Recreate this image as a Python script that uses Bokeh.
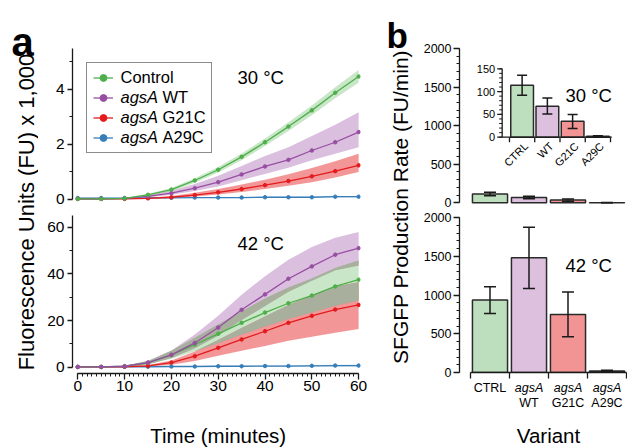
import numpy as np
from bokeh.plotting import figure
from bokeh.models import Range1d, FixedTicker, Label, Legend, LegendItem
from bokeh.layouts import row, column
from bokeh.embed import file_html
from bokeh.resources import INLINE
from bokeh.core.properties import value

FONT = "Liberation Sans"
INK = "#1a1a1a"

# ---------------- data: panel a ----------------
time_min = [0, 5, 10, 15, 20, 25, 30, 35, 40, 45, 50, 55, 60]

# 30 C (fluorescence, FU x 1,000)
ctrl_30 = [0.02, 0.02, 0.04, 0.17, 0.36, 0.69, 1.08, 1.55, 2.08, 2.65, 3.24, 3.88, 4.47]
ctrl_30_lo = [0.01, 0.01, 0.02, 0.13, 0.30, 0.61, 0.98, 1.43, 1.94, 2.49, 3.06, 3.68, 4.24]
ctrl_30_hi = [0.03, 0.03, 0.06, 0.21, 0.42, 0.77, 1.18, 1.67, 2.22, 2.81, 3.42, 4.08, 4.71]
wt_30 = [0.02, 0.02, 0.04, 0.11, 0.23, 0.41, 0.63, 0.91, 1.20, 1.44, 1.78, 2.08, 2.45]
wt_30_lo = [0.01, 0.01, 0.03, 0.08, 0.17, 0.31, 0.47, 0.70, 0.93, 1.15, 1.43, 1.66, 1.90]
wt_30_hi = [0.03, 0.03, 0.06, 0.15, 0.32, 0.56, 0.86, 1.22, 1.58, 1.90, 2.31, 2.72, 3.17]
g21c_30 = [0.02, 0.02, 0.02, 0.04, 0.08, 0.16, 0.26, 0.38, 0.52, 0.67, 0.84, 1.03, 1.24]
g21c_30_lo = [0.01, 0.01, 0.01, 0.03, 0.05, 0.11, 0.18, 0.27, 0.38, 0.50, 0.63, 0.80, 1.00]
g21c_30_hi = [0.03, 0.03, 0.03, 0.06, 0.13, 0.24, 0.38, 0.54, 0.72, 0.92, 1.14, 1.39, 1.66]
a29c_30 = [0.05, 0.05, 0.05, 0.06, 0.06, 0.07, 0.07, 0.07, 0.08, 0.08, 0.08, 0.10, 0.10]
a29c_30_lo = [0.04, 0.04, 0.04, 0.05, 0.05, 0.05, 0.05, 0.05, 0.06, 0.06, 0.06, 0.07, 0.07]
a29c_30_hi = [0.06, 0.06, 0.06, 0.07, 0.07, 0.08, 0.08, 0.09, 0.10, 0.10, 0.10, 0.13, 0.13]

# 42 C (fluorescence, FU x 1,000)
ctrl_42 = [0.1, 0.1, 0.4, 1.9, 5.3, 9.7, 14.3, 19.0, 23.4, 27.4, 30.7, 34.6, 37.5]
ctrl_42_lo = [0.0, 0.0, 0.2, 1.2, 3.6, 6.8, 10.3, 14.0, 17.4, 20.6, 23.4, 26.3, 28.6]
ctrl_42_hi = [0.2, 0.2, 0.6, 2.6, 7.0, 12.6, 18.3, 24.0, 29.4, 34.2, 38.0, 42.5, 45.7]
wt_42 = [0.1, 0.1, 0.4, 2.0, 5.3, 10.4, 17.0, 24.6, 31.2, 37.9, 43.2, 48.2, 51.0]
wt_42_lo = [0.0, 0.0, 0.2, 1.3, 3.9, 8.1, 13.6, 20.2, 26.2, 32.3, 37.0, 41.5, 43.6]
wt_42_hi = [0.2, 0.2, 0.6, 2.8, 7.2, 14.0, 22.0, 31.0, 39.0, 46.0, 51.5, 55.5, 57.9]
g21c_42 = [0.1, 0.1, 0.2, 0.6, 2.0, 4.7, 8.3, 11.9, 15.4, 19.0, 22.0, 24.7, 26.7]
g21c_42_lo = [0.0, 0.0, 0.1, 0.3, 1.1, 2.7, 4.9, 7.0, 9.1, 11.3, 13.1, 14.8, 16.4]
g21c_42_hi = [0.2, 0.2, 0.3, 0.9, 2.9, 6.7, 11.7, 16.8, 21.7, 26.7, 30.9, 34.6, 36.4]
a29c_42 = [0.1, 0.1, 0.2, 0.2, 0.3, 0.3, 0.4, 0.4, 0.5, 0.5, 0.6, 0.7, 0.7]
a29c_42_lo = [0.0, 0.0, 0.1, 0.1, 0.1, 0.1, 0.2, 0.2, 0.2, 0.2, 0.3, 0.3, 0.3]
a29c_42_hi = [0.2, 0.2, 0.3, 0.3, 0.5, 0.5, 0.6, 0.6, 0.8, 0.8, 0.9, 1.1, 1.1]

series_labels = [("", "Control"), ("agsA", "WT"), ("agsA", "G21C"), ("agsA", "A29C")]
line_colors = ["#4daf4a", "#984ea3", "#e41a1c", "#377eb8"]
band_alphas = [0.30, 0.36, 0.46, 0.30]
overlap_color = "#a9af9d"

ticks_30 = [0, 2, 4]
minor_30 = [1, 3, 5]
ticks_42 = [0, 20, 40, 60]
minor_42 = [10, 30, 50]
time_ticks = [0, 10, 20, 30, 40, 50, 60]
time_minor = list(range(0, 61))

# ---------------- data: panel b ----------------
variants = ["CTRL", "WT", "G21C", "A29C"]
variant_pos = [0.5, 1.5, 2.5, 3.5]
variant_edges = [0, 1, 2, 3, 4]
rate_30 = [114, 68, 35, 2]
rate_30_lo = [92, 51, 19, 1]
rate_30_hi = [136, 86, 50, 3]
rate_42 = [935, 1480, 750, 20]
rate_42_lo = [760, 1085, 460, 12]
rate_42_hi = [1105, 1875, 1040, 28]
bar_colors = ["#bddfbd", "#ddbfde", "#f29494", "#b4cfe8"]

rate_ticks = [0, 500, 1000, 1500, 2000]
rate_minor = list(range(0, 2001, 100))
inset_ticks = [0, 50, 100, 150]
inset_minor = list(range(0, 151, 10))


def make_fig(w, h, xr, yr, l, r, t, b, xaxis=True, yaxis=True):
    p = figure(width=w, height=h, x_range=xr, y_range=yr,
               x_axis_type="linear" if xaxis else None,
               y_axis_type="linear" if yaxis else None,
               output_backend="svg", toolbar_location=None,
               min_border_left=l, min_border_right=r,
               min_border_top=t, min_border_bottom=b)
    p.grid.visible = False
    p.outline_line_color = None
    p.background_fill_color = "white"
    p.border_fill_color = "white"
    return p


def style_axis(ax, ticks, minor, fs, standoff, tick_len=5):
    ax.ticker = FixedTicker(ticks=ticks, minor_ticks=minor)
    ax.axis_line_color = INK
    ax.axis_line_width = 1.3
    ax.major_tick_line_color = INK
    ax.major_tick_line_width = 1.3
    ax.minor_tick_line_color = INK
    ax.minor_tick_line_width = 1.0
    ax.major_tick_in = 0
    ax.major_tick_out = tick_len
    ax.minor_tick_in = 0
    ax.minor_tick_out = 3
    ax.major_label_text_font = FONT
    ax.major_label_text_font_size = fs
    ax.major_label_text_color = "black"
    ax.major_label_standoff = standoff


def frame_label(p, dx, dy, text, size, style="normal", align="left", baseline="middle"):
    # dx: px right of the frame's left edge, dy: px below the frame's top edge
    p.add_layout(Label(x=p.x_range.start, y=p.y_range.end, x_offset=dx, y_offset=-dy, text=text,
                       text_font=FONT, text_font_size=size, text_font_style=style,
                       text_align=align, text_baseline=baseline, text_color="black",
                       level="overlay"))


def plain_label(p, x, y, text, size, style="normal", align="left", baseline="middle", angle=0.0):
    p.add_layout(Label(x=x, y=y, text=text, text_font=FONT, text_font_size=size,
                       text_font_style=style, text_align=align, text_baseline=baseline,
                       angle=angle, text_color="black", level="overlay"))


# ---------------- panel a, 30 C ----------------
xr_a = Range1d(-1.13, 60.4)
tl = make_fig(332, 207, xr_a, Range1d(-0.22, 5.49), 34, 10, 48, 2, xaxis=False)
style_axis(tl.yaxis[0], ticks_30, minor_30, "15.5px", 3)
tl.yaxis[0].bounds = (0, 5.49)

sets_30 = [(ctrl_30, ctrl_30_lo, ctrl_30_hi), (wt_30, wt_30_lo, wt_30_hi),
           (g21c_30, g21c_30_lo, g21c_30_hi), (a29c_30, a29c_30_lo, a29c_30_hi)]
for i in [1, 2, 0, 3]:
    m, lo, hi = sets_30[i]
    tl.varea(x=time_min, y1=lo, y2=hi, fill_color=line_colors[i], fill_alpha=band_alphas[i])
items = []
for i in [3, 2, 1, 0]:
    m, lo, hi = sets_30[i]
    lr = tl.line(time_min, m, line_color=line_colors[i], line_width=1.3)
    sr = tl.scatter(time_min, m, size=3.5, fill_color=line_colors[i], line_color=line_colors[i])
    items.insert(0, LegendItem(label=" ", renderers=[lr, sr]))
legend = Legend(items=items, location="top_left", margin=14, padding=6, spacing=3,
                glyph_width=20, glyph_height=17, label_height=17, label_width=85,
                label_standoff=7, label_text_font_size="10px",
                border_line_color=INK, border_line_width=1.3,
                background_fill_alpha=0.0, level="annotation")
tl.add_layout(legend)
for k, (it, nm) in enumerate(series_labels):
    dy = 28.5 + 20 * k
    if it:
        frame_label(tl, 48, dy, it, "16.5px", style="italic")
        frame_label(tl, 90, dy, nm, "16.5px")
    else:
        frame_label(tl, 48, dy, nm, "16.5px")
frame_label(tl, 165, 29, "30 °C", "18.5px")

# ---------------- panel a, 42 C ----------------
bl = make_fig(332, 198, xr_a, Range1d(-2.7, 65), 34, 10, 8, 32)
style_axis(bl.yaxis[0], ticks_42, minor_42, "15.5px", 3)
bl.yaxis[0].bounds = (0, 65)
style_axis(bl.xaxis[0], time_ticks, time_minor, "15.5px", 1, tick_len=6)
bl.xaxis[0].bounds = (0, 60)

sets_42 = [(ctrl_42, ctrl_42_lo, ctrl_42_hi), (wt_42, wt_42_lo, wt_42_hi),
           (g21c_42, g21c_42_lo, g21c_42_hi), (a29c_42, a29c_42_lo, a29c_42_hi)]
for i in [1, 0, 2, 3]:
    m, lo, hi = sets_42[i]
    bl.varea(x=time_min, y1=lo, y2=hi, fill_color=line_colors[i], fill_alpha=band_alphas[i])
# overlap of the control band with the other bands
c_lo, c_hi = np.array(ctrl_42_lo), np.array(ctrl_42_hi)
for j in [1, 2]:
    o_lo = np.maximum(c_lo, np.array(sets_42[j][1]))
    o_hi = np.maximum(np.minimum(c_hi, np.array(sets_42[j][2])), o_lo)
    bl.varea(x=time_min, y1=o_lo, y2=o_hi, fill_color=overlap_color, fill_alpha=1.0)
for i in [3, 2, 0, 1]:
    m, lo, hi = sets_42[i]
    bl.line(time_min, m, line_color=line_colors[i], line_width=1.3)
    bl.scatter(time_min, m, size=3.5, fill_color=line_colors[i], line_color=line_colors[i])
frame_label(bl, 165, 28, "42 °C", "18.5px")

# axis-title strip under panel a (shares the time range)
bt = make_fig(332, 42, xr_a, Range1d(0, 42), 34, 10, 0, 0, xaxis=False, yaxis=False)
plain_label(bt, 30, 12, "Time (minutes)", "20.5px", align="center")

# ---------------- panel b, 30 C (with inset) ----------------
xr_b = Range1d(-0.282, 4.0)
tr = make_fig(211, 211, xr_b, Range1d(-22, 2000), 43, 1, 48, 7, xaxis=False)
style_axis(tr.yaxis[0], rate_ticks, rate_minor, "12.5px", 2, tick_len=6)
tr.yaxis[0].bounds = (0, 2000)
tr.vbar(x=variant_pos, top=rate_30, bottom=0, width=0.9, fill_color=bar_colors,
        line_color="#2a2a2a", line_width=1.5)
tr.segment(x0=variant_pos, x1=variant_pos, y0=rate_30_lo, y1=rate_30_hi, line_color=INK, line_width=1.5)
tr.scatter(variant_pos, rate_30_lo, marker="dash", size=12, line_color=INK, line_width=1.5)
tr.scatter(variant_pos, rate_30_hi, marker="dash", size=12, line_color=INK, line_width=1.5)

# inset (zoomed 0-150 view of the same bars)
tr.extra_x_ranges = {"ix": Range1d(-1.98, 4.634)}
tr.extra_y_ranges = {"iy": Range1d(-147.6, 194.5)}
IN = dict(x_range_name="ix", y_range_name="iy")
inset_axis_x = -0.29
tr.vbar(x=variant_pos, top=rate_30, bottom=0, width=0.9, fill_color=bar_colors,
        line_color="#2a2a2a", line_width=1.5, **IN)
tr.segment(x0=variant_pos, x1=variant_pos, y0=rate_30_lo, y1=rate_30_hi, line_color=INK, line_width=1.5, **IN)
tr.scatter(variant_pos, rate_30_lo, marker="dash", size=10, line_color=INK, line_width=1.5, **IN)
tr.scatter(variant_pos, rate_30_hi, marker="dash", size=10, line_color=INK, line_width=1.5, **IN)
tr.segment(x0=[inset_axis_x, inset_axis_x], x1=[inset_axis_x, variant_edges[-1] + 0.05],
           y0=[inset_ticks[0], 0], y1=[inset_ticks[-1], 0], line_color=INK, line_width=1.3, **IN)
tr.ray(x=[inset_axis_x] * len(inset_ticks), y=inset_ticks, length=5, length_units="screen",
       angle=np.pi, line_color=INK, line_width=1.3, **IN)
tr.ray(x=[inset_axis_x] * len(inset_minor), y=inset_minor, length=3, length_units="screen",
       angle=np.pi, line_color=INK, line_width=1.0, **IN)
tr.ray(x=variant_edges, y=[0] * len(variant_edges), length=5, length_units="screen",
       angle=-np.pi / 2, line_color=INK, line_width=1.3, **IN)
tr.text(x=[inset_axis_x] * len(inset_ticks), y=inset_ticks, text=[str(t) for t in inset_ticks],
        x_offset=-7, text_align="right", text_baseline="middle", text_font=value(FONT),
        text_font_size="11px", text_color="black", **IN)
tr.text(x=variant_pos, y=[0] * len(variants), text=variants, angle=np.pi / 4,
        x_offset=4, y_offset=7, text_align="right", text_baseline="middle",
        text_font=value(FONT), text_font_size="11px", text_color="black", **IN)
frame_label(tr, 106, 47, "30 °C", "18.5px")

# ---------------- panel b, 42 C ----------------
br = make_fig(211, 170, xr_b, Range1d(0, 2000), 43, 1, 6, 9)
style_axis(br.yaxis[0], rate_ticks, rate_minor, "12.5px", 2, tick_len=6)
br.yaxis[0].bounds = (0, 2000)
xa = br.xaxis[0]
style_axis(xa, variant_pos, variant_edges, "0px", 0)
xa.major_tick_out = 0
xa.minor_tick_out = 6
xa.minor_tick_line_width = 1.3
xa.axis_line_width = 1.5
xa.bounds = (0, 4)
xa.major_label_overrides = {p: "" for p in variant_pos}
br.vbar(x=variant_pos, top=rate_42, bottom=0, width=0.9, fill_color=bar_colors,
        line_color="#2a2a2a", line_width=1.5)
br.segment(x0=variant_pos, x1=variant_pos, y0=rate_42_lo, y1=rate_42_hi, line_color=INK, line_width=1.5)
br.scatter(variant_pos, rate_42_lo, marker="dash", size=12, line_color=INK, line_width=1.5)
br.scatter(variant_pos, rate_42_hi, marker="dash", size=12, line_color=INK, line_width=1.5)
frame_label(br, 106, 47.5, "42 °C", "18.5px")

# category labels + axis title strip under the 42 C bars (shares the x range)
bs = make_fig(211, 66, xr_b, Range1d(0, 66), 43, 1, 0, 0, xaxis=False, yaxis=False)
for k, (it, nm) in enumerate(series_labels):
    if it:
        plain_label(bs, variant_pos[k], 59.5, it, "12.5px", style="italic", align="center")
        plain_label(bs, variant_pos[k], 44.8, nm, "12.5px", align="center")
    else:
        plain_label(bs, variant_pos[k], 59.5, variants[k], "12.5px", align="center")
plain_label(bs, 2.0, 12, "Variant", "20.5px", align="center")

# ---------------- side label strips ----------------
la = make_fig(38, 447, Range1d(0, 38), Range1d(0, 447), 0, 0, 0, 0, xaxis=False, yaxis=False)
plain_label(la, 11, 405.3, "a", "40px", style="bold", baseline="alphabetic")
plain_label(la, 26, 235.5, "Fluorescence Units (FU) x 1,000", "22px", align="center", angle=np.pi / 2)

lb = make_fig(46, 447, Range1d(0, 46), Range1d(0, 447), 0, 0, 0, 0, xaxis=False, yaxis=False)
plain_label(lb, 16, 412, "b", "35px", style="bold", baseline="alphabetic")
plain_label(lb, 30, 240.5, "SFGFP Production Rate (FU/min)", "21px", align="center", angle=np.pi / 2)

layout = row(la, column(tl, bl, bt, spacing=0), lb, column(tr, br, bs, spacing=0), spacing=0)
open("out.html", "w").write(file_html(layout, INLINE))
